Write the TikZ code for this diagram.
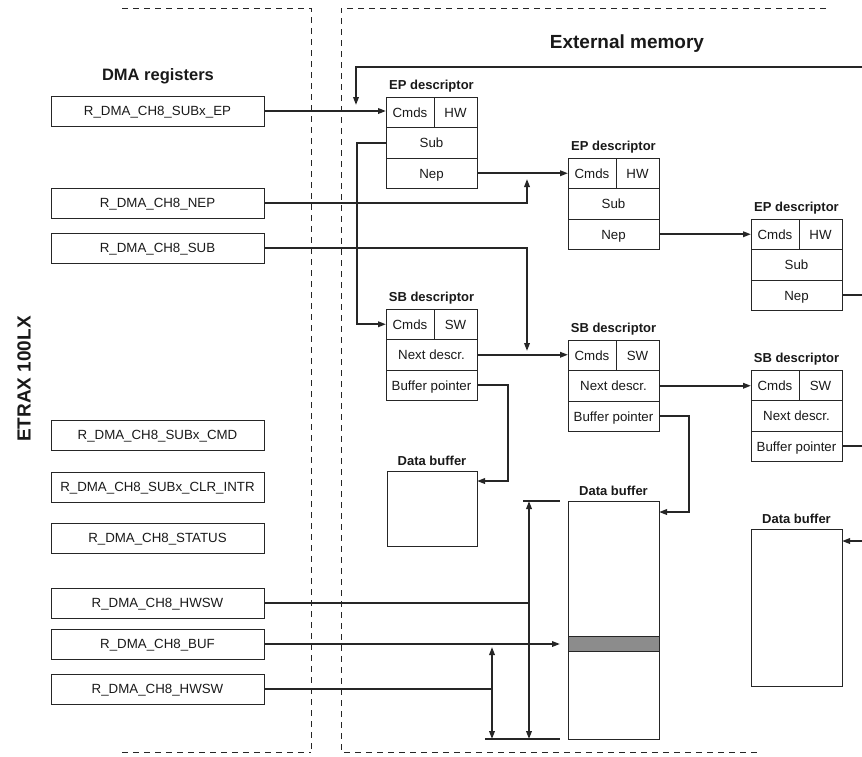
\documentclass[tikz,border=0pt]{standalone}
\usepackage{fontspec}
\setmainfont{Liberation Sans}
\usetikzlibrary{arrows.meta,calc}

\tikzset{
  txt/.style={font=\fontsize{13.3}{15}\selectfont, text=black!90,
    text height=9.5pt, text depth=0pt},
  reg/.style={txt, draw=black!85, line width=0.9pt, minimum width=213pt,
    minimum height=30pt, inner sep=0pt, outer sep=0pt},
  cellbase/.style={txt, draw=black!85, line width=1pt, minimum height=30.5pt,
    inner sep=0pt, outer sep=0pt, anchor=north west},
  cellL/.style={cellbase, minimum width=48pt},
  cellR/.style={cellbase, minimum width=43pt},
  cellW/.style={cellbase, minimum width=91pt},
  bufbox/.style={draw=black!85, line width=1pt, inner sep=0pt, outer sep=0pt,
    anchor=north west},
  title/.style={font=\bfseries\fontsize{13}{15}\selectfont, text=black!90,
    anchor=base, inner sep=0pt},
  midtitle/.style={font=\bfseries\fontsize{16.5}{18}\selectfont, text=black!90,
    inner sep=0pt},
  bigtitle/.style={font=\bfseries\fontsize{19}{21}\selectfont, text=black!90,
    inner sep=0pt},
  wire/.style={draw=black!85, line width=1.8pt},
  arr/.style={wire, -{Triangle[length=8pt,width=5.5pt]}},
  darr/.style={wire, {Triangle[length=8pt,width=5.5pt]}-{Triangle[length=8pt,width=5.5pt]}},
  tick/.style={draw=black!85, line width=1.5pt},
  frame/.style={draw=black!85, line width=1pt, dash pattern=on 6pt off 5pt},
}

% descriptor: #1 name, #2 top-left corner, #3 heading, #4 top-right cell,
% #5 middle row, #6 bottom row
\newcommand\descbox[6]{%
  \node[cellL] (#1c) at #2 {Cmds};
  \node[cellR] (#1t) at (#1c.north east) {#4};
  \node[cellW] (#1m) at (#1c.south west) {#5};
  \node[cellW] (#1b) at (#1m.south west) {#6};
  \node[title] (#1l) at ($(#1c.north west)+(45.5,-8)$) {#3};
}

\begin{document}
\begin{tikzpicture}[x=1pt,y=-1pt]
\useasboundingbox (0,0) rectangle (862,756);

% chip and memory boundaries
\draw[frame] (122,8) -- (311,8) -- (311,752);
\draw[frame] (122,752) -- (311,752);
\draw[frame] (826,8) -- (341,8) -- (341,752) -- (760,752);

% headings
\node[bigtitle, rotate=90] (etrax) at (24,379) {ETRAX 100LX};
\node[bigtitle] (extmem) at (627,44) {External memory};
\node[midtitle] (dmaregs) at (158,76) {DMA registers};

% DMA registers
\node[reg] (rEP)   at (157.5,111) {R\_DMA\_CH8\_SUBx\_EP};
\node[reg] (rNEP)  at (157.5,203) {R\_DMA\_CH8\_NEP};
\node[reg] (rSUB)  at (157.5,248) {R\_DMA\_CH8\_SUB};
\node[reg] (rCMD)  at (157.5,435) {R\_DMA\_CH8\_SUBx\_CMD};
\node[reg] (rCLR)  at (157.5,487) {R\_DMA\_CH8\_SUBx\_CLR\_INTR};
\node[reg] (rSTAT) at (157.5,538) {R\_DMA\_CH8\_STATUS};
\node[reg] (rHW1)  at (157.5,603) {R\_DMA\_CH8\_HWSW};
\node[reg] (rBUF)  at (157.5,644) {R\_DMA\_CH8\_BUF};
\node[reg] (rHW2)  at (157.5,689) {R\_DMA\_CH8\_HWSW};

% descriptors
\descbox{ep1}{(386,97)}{EP descriptor}{HW}{Sub}{Nep}
\descbox{ep2}{(568,158)}{EP descriptor}{HW}{Sub}{Nep}
\descbox{ep3}{(751,219)}{EP descriptor}{HW}{Sub}{Nep}
\descbox{sb1}{(386,309)}{SB descriptor}{SW}{Next descr.}{Buffer pointer}
\descbox{sb2}{(568,340)}{SB descriptor}{SW}{Next descr.}{Buffer pointer}
\descbox{sb3}{(751,370)}{SB descriptor}{SW}{Next descr.}{Buffer pointer}

% data buffers
\node[bufbox, minimum width=90pt, minimum height=75pt] (db1) at (387,471) {};
\node[bufbox, minimum width=91pt, minimum height=238pt] (db2) at (568,501) {};
\node[bufbox, fill=black!45, minimum width=91pt, minimum height=15pt] (db2mark) at (568,636) {};
\node[bufbox, minimum width=91pt, minimum height=157pt] (db3) at (751,529) {};
\node[title] (db1l) at ($(db1.north)+(0,-6)$) {Data buffer};
\node[title] (db2l) at ($(db2.north)+(0,-6)$) {Data buffer};
\node[title] (db3l) at ($(db3.north)+(0,-6)$) {Data buffer};

% helper points
\coordinate (edgeR)   at (862,0);
\coordinate (loopIn)  at (862,67);
\coordinate (loopTip) at (356,105);
\coordinate (nepTip)  at (527,179);
\coordinate (subTip)  at (527,351);
\coordinate (db3In)   at (862,541);

% pointer chains
\draw[arr] (rEP.east) -- (rEP.east -| ep1c.west);
\draw[arr] (loopIn) -| (loopTip);
\draw[arr] (ep1m.west) -- ++(-29,0) |- (sb1c.west);
\draw[arr] (rNEP.east) -| (nepTip);
\draw[arr] (ep1b.east) -- (ep1b.east -| ep2c.west);
\draw[arr] (rSUB.east) -| (subTip);
\draw[arr] (sb1m.east) -- (sb1m.east -| sb2c.west);
\draw[arr] (sb1b.east) -- ++(31,0) |- ($(db1.north east)+(0,10)$);
\draw[arr] (ep2b.east) -- (ep2b.east -| ep3c.west);
\draw[wire] (ep3b.east) -- (ep3b.east -| edgeR);
\draw[arr] (sb2m.east) -- (sb2m.east -| sb3c.west);
\draw[arr] (sb2b.east) -- ++(30,0) |- ($(db2.north east)+(0,11)$);
\draw[wire] (sb3b.east) -- (sb3b.east -| edgeR);
\draw[arr] (db3In) -- (db3In -| db3.east);

% buffer span markers
\coordinate (spanTop)  at (529,501);
\coordinate (spanBot)  at (529,739);
\coordinate (span2Top) at (492,647);
\coordinate (span2Bot) at (492,739);
\coordinate (tickTopL) at (523,501);
\coordinate (tickTopR) at (560,501);
\coordinate (tickBotL) at (485,739);
\coordinate (tickBotR) at (560,739);
\coordinate (bufTip)   at (560,644);

\draw[tick] (tickTopL) -- (tickTopR);
\draw[tick] (tickBotL) -- (tickBotR);
\draw[darr] (spanTop) -- (spanBot);
\draw[darr] (span2Top) -- (span2Bot);
\draw[wire] (rHW1.east) -- (rHW1.east -| spanTop);
\draw[arr] (rBUF.east) -- (bufTip);
\draw[wire] (rHW2.east) -- (rHW2.east -| span2Top);
\end{tikzpicture}
\end{document}
